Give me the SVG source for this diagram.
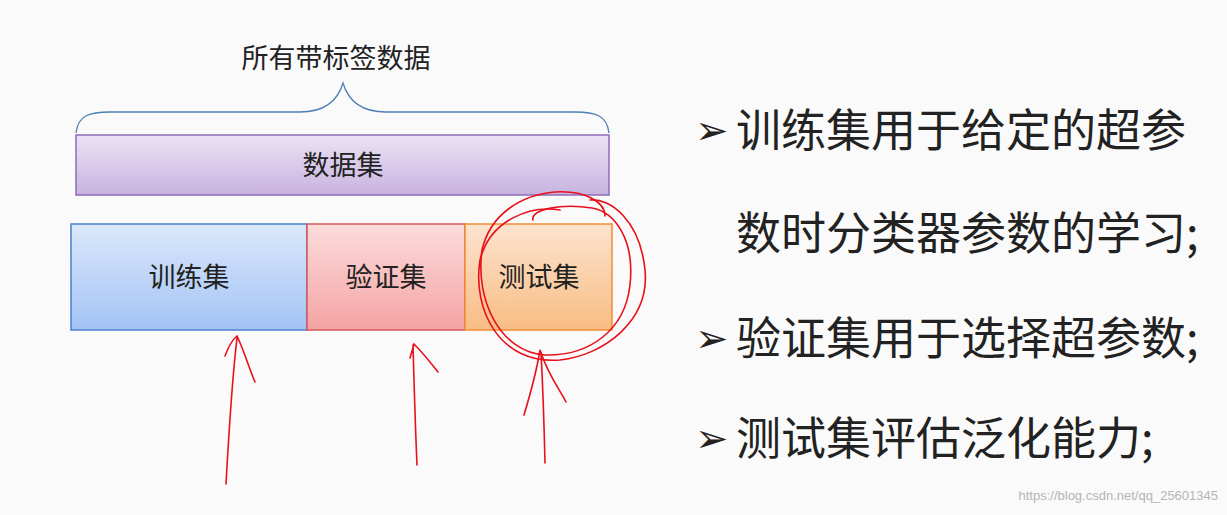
<svg xmlns="http://www.w3.org/2000/svg" width="1227" height="515" viewBox="0 0 1227 515">
<defs>
<linearGradient id="gp" x1="0" y1="0" x2="0" y2="1"><stop offset="0" stop-color="#ebe2f4"/><stop offset="1" stop-color="#c8b3e0"/></linearGradient>
<linearGradient id="gb" x1="0" y1="0" x2="0" y2="1"><stop offset="0" stop-color="#dbe8fb"/><stop offset="1" stop-color="#a3c3f5"/></linearGradient>
<linearGradient id="gr" x1="0" y1="0" x2="0" y2="1"><stop offset="0" stop-color="#fbdcdc"/><stop offset="1" stop-color="#f5a3a3"/></linearGradient>
<linearGradient id="go" x1="0" y1="0" x2="0" y2="1"><stop offset="0" stop-color="#fde4cf"/><stop offset="1" stop-color="#f8bc84"/></linearGradient>
</defs>
<style>
text{font-family:"Noto Sans CJK SC","Noto Sans",sans-serif;fill:#222}
.box{font-size:27px;text-anchor:middle}
.big{font-size:45px}
.bul{font-size:40px}
.red{fill:none;stroke:#e8101a;stroke-width:1.6;stroke-linecap:round}
</style>
<rect width="1227" height="515" fill="#fafafa"/>
<g id="brace"><path d="M76,133 C78,115 90,112 110,112 L300,112 C325,112 338,100 343,83 C348,100 361,112 386,112 L575,112 C595,112 607,115 609,133" fill="none" stroke="#4f7fb5" stroke-width="1.3"/>
<text x="336" y="68" font-size="27" text-anchor="middle">所有带标签数据</text></g>
<g id="dataset"><rect x="76" y="135" width="533" height="60" fill="url(#gp)" stroke="#8e6cb8" stroke-width="1.5"/><text class="box" x="343" y="175">数据集</text></g>
<g id="train"><rect x="71" y="224" width="236" height="106" fill="url(#gb)" stroke="#4a7fd0" stroke-width="1.5"/><text class="box" x="189" y="287">训练集</text></g>
<g id="val"><rect x="307" y="224" width="158" height="106" fill="url(#gr)" stroke="#d45a5a" stroke-width="1.5"/><text class="box" x="386" y="287">验证集</text></g>
<g id="test"><rect x="465" y="224" width="147" height="106" fill="url(#go)" stroke="#ef8f35" stroke-width="1.5"/><text class="box" x="539" y="287">测试集</text></g>
<g id="notes">
<text class="bul" x="695" y="144">➢</text><text class="big" x="736" y="147">训练集用于给定的超参</text>
<text class="big" x="736" y="250">数时分类器参数的学习;</text>
<text class="bul" x="695" y="352">➢</text><text class="big" x="736" y="355">验证集用于选择超参数;</text>
<text class="bul" x="695" y="452">➢</text><text class="big" x="736" y="455">测试集评估泛化能力;</text>
<text x="1218" y="500" font-size="13" text-anchor="end" style="fill:#b5b5b5;font-family:'Liberation Sans',sans-serif">https://blog.csdn.net/qq_25601345</text>
</g>
<g id="annotations">
<path class="red" d="M226,484 C229,430 232,380 237,338 M225,356 C228,348 232,340 237,336 C243,348 248,365 255,382"/>
<path class="red" d="M417,465 C415,420 414,380 413,345 M410,358 L414,344 C420,350 427,358 438,372"/>
<path class="red" d="M545,463 C544,420 543,390 541,352 M524,415 C530,395 536,375 540,350 C548,375 560,390 566,402"/>
<path class="red" d="M605,216 C605,202 585,190 555,192 C520,195 490,215 482,250 C475,300 500,352 545,355 C590,356 625,330 630,285 C635,240 615,212 592,208 C560,203 530,210 533,220"/>
<path class="red" d="M560,210 C530,205 490,220 480,260 C472,310 500,365 560,360 C605,355 650,320 645,270 C640,220 610,198 590,200"/>
</g>
</svg>
